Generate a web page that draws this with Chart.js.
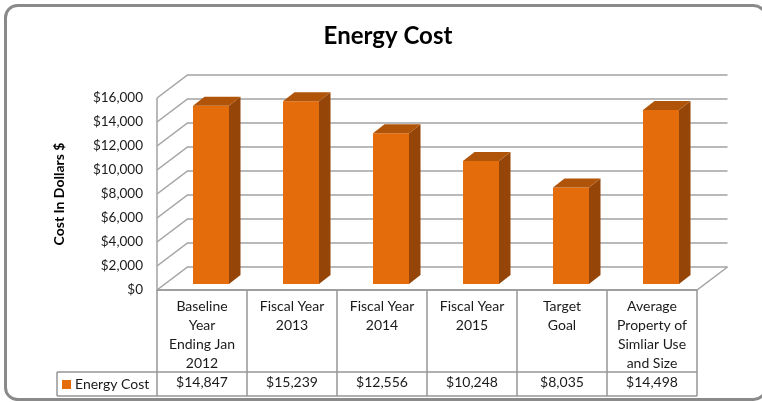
<!DOCTYPE html>
<html>
<head>
<meta charset="utf-8">
<script src="https://cdn.jsdelivr.net/npm/chart.js@4.4.1/dist/chart.umd.min.js"></script>
<style>
    html, body { margin: 0; padding: 0; background: #fff; }
</style>
</head>
<body>
<canvas id="chart1" width="762" height="402"></canvas>
<script>
    // data
    const categories = [
        ['Baseline', 'Year', 'Ending Jan', '2012'],
        ['Fiscal Year', '2013'],
        ['Fiscal Year', '2014'],
        ['Fiscal Year', '2015'],
        ['Target', 'Goal'],
        ['Average', 'Property of', 'Simliar Use', 'and Size']
    ];
    const energyCost = [14847, 15239, 12556, 10248, 8035, 14498];
    const seriesName = 'Energy Cost';
    const chartTitle = 'Energy Cost';
    const yMin = 0, yMax = 16000, yStep = 2000;

    const FRONT = '#E46C0A', TOP = '#B0540A', SIDE = '#944507';
    const GRID = '#a3a3a3', TABLE = '#969696';
    const WALL = { x: 30.5, y: -23 };   // depth of the back wall
    const BAR_OFF = { x: 9, y: -6 };    // where the bar front sits in depth
    const BAR_D = { x: 11.5, y: -9 };   // depth of each bar

    function money(v) {
        return '$' + Number(v).toLocaleString('en-US');
    }

    const threeD = {
        id: 'threeD',
        beforeDraw(chart) {
            const ctx = chart.ctx;
            ctx.save();
            ctx.fillStyle = '#fff';
            ctx.fillRect(0, 0, chart.width, chart.height);
            ctx.strokeStyle = '#8a8a8a';
            ctx.lineWidth = 3;
            ctx.beginPath();
            ctx.roundRect(5.5, 5.5, 760, 394, 12);
            ctx.stroke();
            // title
            ctx.fillStyle = '#000';
            ctx.font = 'bold 24px Lato';
            ctx.textAlign = 'center';
            ctx.textBaseline = 'middle';
            ctx.fillText(chartTitle, 388, 36);
            ctx.restore();
        },
        beforeDatasetsDraw(chart) {
            const { ctx, chartArea: a, scales: { y } } = chart;
            ctx.save();
            ctx.strokeStyle = GRID;
            ctx.lineWidth = 1.5;
            for (let v = yMin; v <= yMax; v += yStep) {
                const py = y.getPixelForValue(v);
                ctx.beginPath();
                ctx.moveTo(a.left, py);
                ctx.lineTo(a.left + WALL.x, py + WALL.y);
                ctx.lineTo(a.right + WALL.x, py + WALL.y);
                ctx.stroke();
            }
            ctx.beginPath();
            ctx.moveTo(a.left, a.top);
            ctx.lineTo(a.left, a.bottom);
            ctx.lineTo(a.right, a.bottom);
            ctx.lineTo(a.right + WALL.x, a.bottom + WALL.y);
            ctx.stroke();
            ctx.restore();
        },
        beforeDatasetDraw(chart) {
            chart.ctx.save();
            chart.ctx.translate(BAR_OFF.x, BAR_OFF.y);
        },
        afterDatasetDraw(chart, args) {
            const ctx = chart.ctx;
            ctx.restore();
            ctx.save();
            args.meta.data.forEach((bar) => {
                const p = bar.getProps(['x', 'y', 'base', 'width'], true);
                const l = p.x - p.width / 2 + BAR_OFF.x;
                const r = p.x + p.width / 2 + BAR_OFF.x;
                const t = p.y + BAR_OFF.y;
                const b = p.base + BAR_OFF.y;
                ctx.fillStyle = SIDE;
                ctx.beginPath();
                ctx.moveTo(r, t);
                ctx.lineTo(r + BAR_D.x, t + BAR_D.y);
                ctx.lineTo(r + BAR_D.x, b + BAR_D.y);
                ctx.lineTo(r, b);
                ctx.closePath();
                ctx.fill();
                ctx.fillStyle = TOP;
                ctx.beginPath();
                ctx.moveTo(l, t);
                ctx.lineTo(l + BAR_D.x, t + BAR_D.y);
                ctx.lineTo(r + BAR_D.x, t + BAR_D.y);
                ctx.lineTo(r, t);
                ctx.closePath();
                ctx.fill();
            });
            ctx.restore();
        },
        afterDraw(chart) {
            const { ctx, chartArea: a, scales: { x } } = chart;
            const bottom = x.bottom;
            const rowTop = bottom - 24;
            const half = (x.getPixelForValue(1) - x.getPixelForValue(0)) / 2;
            ctx.save();
            ctx.strokeStyle = TABLE;
            ctx.lineWidth = 1.5;
            ctx.beginPath();
            ctx.moveTo(a.left, a.bottom);
            ctx.lineTo(a.right, a.bottom);
            ctx.moveTo(57, rowTop);
            ctx.lineTo(a.right, rowTop);
            ctx.moveTo(57, bottom);
            ctx.lineTo(a.right, bottom);
            ctx.moveTo(57, rowTop);
            ctx.lineTo(57, bottom);
            for (let i = 0; i < categories.length; i++) {
                const cx = x.getPixelForValue(i) - half;
                ctx.moveTo(cx, a.bottom);
                ctx.lineTo(cx, bottom);
            }
            ctx.moveTo(a.right, a.bottom);
            ctx.lineTo(a.right, bottom);
            ctx.stroke();

            // legend key in the table
            ctx.fillStyle = FRONT;
            ctx.fillRect(62, rowTop + 8, 9, 9);
            ctx.fillStyle = '#1a1a1a';
            ctx.font = '14px Lato';
            ctx.textAlign = 'left';
            ctx.textBaseline = 'middle';
            ctx.fillText(seriesName, 75, rowTop + 12.5);
            ctx.restore();
        }
    };

    const data = {
        labels: categories,
        datasets: [{
            label: seriesName,
            backgroundColor: FRONT,
            borderWidth: 0,
            barPercentage: 0.4,
            categoryPercentage: 1,
            data: energyCost
        }]
    };

    const config = {
        type: 'bar',
        data: data,
        options: {
            responsive: false,
            animation: false,
            layout: {
                padding: { top: 98, left: 40, right: 65, bottom: 6 }
            },
            plugins: {
                legend: { display: false },
                tooltip: { enabled: false },
                title: { display: false }
            },
            scales: {
                x: {
                    grid: { display: false, drawTicks: false },
                    border: { display: false },
                    ticks: {
                        color: '#1a1a1a',
                        padding: 7,
                        maxRotation: 0,
                        autoSkip: false,
                        font: { family: 'Lato', size: 14, lineHeight: 19 / 14 },
                        callback: function (value, index) {
                            const lines = categories[index].slice();
                            while (lines.length < 4) lines.push('');
                            lines.push(money(energyCost[index]));
                            return lines;
                        }
                    },
                    afterFit: function (scale) { scale.height = 106; }
                },
                y: {
                    min: yMin,
                    max: yMax,
                    grid: { display: false, drawTicks: false },
                    border: { display: false },
                    ticks: {
                        stepSize: yStep,
                        color: '#1a1a1a',
                        padding: 14,
                        font: { family: 'Lato', size: 13.5 },
                        callback: (v) => money(v)
                    },
                    title: {
                        display: true,
                        text: 'Cost In Dollars $',
                        color: '#000',
                        font: { family: 'Lato', size: 14, weight: 'bold', lineHeight: 1.2 },
                        padding: { top: 11, bottom: 0 }
                    },
                    afterFit: function (scale) { scale.width = 117; }
                }
            }
        },
        plugins: [threeD]
    };

    const chart1 = new Chart(document.getElementById('chart1'), config);
</script>
</body>
</html>
